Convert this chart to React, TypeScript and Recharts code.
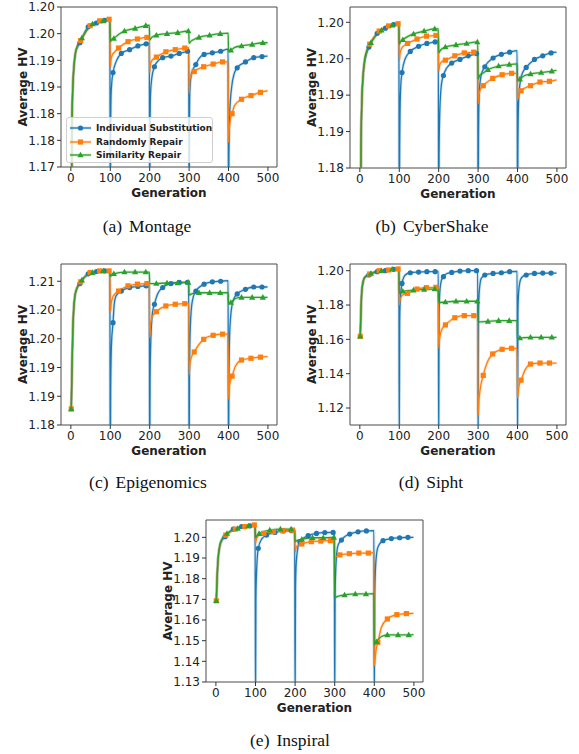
import React from 'react';
import { LineChart, Line, XAxis, YAxis, ReferenceArea } from 'recharts';

type Pt = [number, number];

const generationTicks = [0, 100, 200, 300, 400, 500];
const seriesNames = ['Individual Substitution', 'Randomly Repair', 'Similarity Repair'];
const seriesColors = ['#1f77b4', '#ff7f0e', '#2ca02c'];

// generations that carry a marker (matplotlib markevery)
const blueMarkerGens = [23, 44, 65, 86, 107, 128, 149, 170, 191, 212, 233, 254, 275, 296, 317, 338, 359, 380, 422, 443, 464, 485];
const orangeMarkerGens = [1, 25, 49, 73, 97, 121, 145, 169, 193, 217, 241, 265, 289, 313, 337, 361, 385, 409, 433, 457, 481];
const greenMarkerGens = [1, 28, 55, 82, 109, 136, 163, 190, 217, 244, 271, 298, 325, 352, 379, 406, 433, 460, 487];

// ---- Montage ----
const montageTicks = [1.17, 1.175, 1.18, 1.185, 1.19, 1.195, 1.2];
const montageLabels = ['1.17', '1.18', '1.18', '1.19', '1.19', '1.20', '1.20'];
const montageBlue: Pt[] = [
  [1, 1.15], [3, 1.179], [5, 1.185], [8, 1.189], [12, 1.1915], [17, 1.1925], [23, 1.1933], [44, 1.1963], [65, 1.197], [86, 1.1975], [99, 1.1977],
  [100, 1.16], [101, 1.178], [102, 1.1835], [104, 1.186], [107, 1.1877], [115, 1.1898], [128, 1.1913], [149, 1.192], [170, 1.1927], [191, 1.1931], [199, 1.1932],
  [200, 1.16], [201, 1.178], [202, 1.1835], [205, 1.1865], [212, 1.1888], [220, 1.1898], [233, 1.1905], [254, 1.1908], [275, 1.1913], [296, 1.1917], [299, 1.1918],
  [300, 1.16], [301, 1.179], [302, 1.1845], [306, 1.1875], [317, 1.1892], [325, 1.1903], [338, 1.1911], [359, 1.1914], [380, 1.1917], [399, 1.1921],
  [400, 1.16], [401, 1.172], [403, 1.18], [408, 1.185], [414, 1.1874], [422, 1.1886], [443, 1.1897], [464, 1.1905], [485, 1.1907], [499, 1.1908],
];
const montageOrange: Pt[] = [
  [1, 1.15], [3, 1.179], [5, 1.185], [8, 1.189], [12, 1.1915], [17, 1.1928], [25, 1.1937], [49, 1.1965], [73, 1.1974], [97, 1.1977], [99, 1.1977],
  [100, 1.1888], [102, 1.1902], [105, 1.191], [110, 1.1915], [121, 1.1923], [145, 1.1935], [169, 1.194], [193, 1.1943], [199, 1.1943],
  [200, 1.1877], [202, 1.1893], [205, 1.1899], [210, 1.1903], [217, 1.1906], [241, 1.1916], [265, 1.192], [289, 1.1923], [299, 1.1924],
  [300, 1.1838], [302, 1.1862], [305, 1.1872], [313, 1.1879], [337, 1.1888], [361, 1.1893], [385, 1.1897], [399, 1.1897],
  [400, 1.1746], [402, 1.1772], [405, 1.179], [409, 1.18], [415, 1.1815], [433, 1.1827], [457, 1.1834], [481, 1.184], [499, 1.1843],
];
const montageGreen: Pt[] = [
  [1, 1.15], [3, 1.179], [5, 1.185], [8, 1.189], [12, 1.1915], [17, 1.1928], [28, 1.1942], [55, 1.1968], [82, 1.1974], [99, 1.1976],
  [100, 1.1935], [103, 1.1939], [109, 1.1941], [120, 1.1948], [136, 1.1955], [163, 1.196], [190, 1.1965], [199, 1.1966],
  [200, 1.1938], [205, 1.1943], [217, 1.1947], [244, 1.195], [271, 1.1952], [298, 1.1955], [299, 1.1955],
  [300, 1.1932], [305, 1.1936], [312, 1.1939], [325, 1.1943], [352, 1.1947], [379, 1.195], [399, 1.1951],
  [400, 1.1918], [406, 1.1919], [415, 1.1924], [433, 1.1927], [460, 1.193], [487, 1.1933], [499, 1.1933],
];

// ---- CyberShake ----
const cyberTicks = [1.18, 1.1825, 1.185, 1.1875, 1.19, 1.1925, 1.195, 1.1975, 1.2];
const cyberLabels = ['1.18', '1.18', '1.19', '1.19', '1.19', '1.19', '1.20', '1.20', '1.20'];
const cyberBlue: Pt[] = [
  [1, 1.16], [3, 1.183], [5, 1.189], [8, 1.1925], [12, 1.1945], [17, 1.1957], [23, 1.1966], [44, 1.1985], [65, 1.1992], [86, 1.1997], [99, 1.1998],
  [100, 1.17], [101, 1.183], [102, 1.188], [104, 1.1915], [107, 1.1931], [115, 1.195], [128, 1.196], [149, 1.1967], [170, 1.1971], [191, 1.1973], [199, 1.1974],
  [200, 1.17], [201, 1.182], [203, 1.188], [207, 1.1915], [212, 1.1927], [220, 1.1937], [233, 1.1944], [254, 1.1949], [275, 1.1954], [296, 1.1957], [299, 1.1958],
  [300, 1.17], [301, 1.184], [303, 1.1905], [308, 1.1928], [317, 1.1939], [338, 1.1951], [359, 1.1956], [380, 1.1959], [399, 1.1961],
  [400, 1.17], [401, 1.183], [403, 1.1895], [408, 1.1922], [414, 1.1932], [422, 1.1938], [443, 1.1949], [464, 1.1954], [485, 1.1958], [499, 1.1959],
];
const cyberOrange: Pt[] = [
  [1, 1.16], [3, 1.183], [5, 1.189], [8, 1.1925], [12, 1.1948], [17, 1.196], [25, 1.197], [49, 1.1988], [73, 1.1995], [97, 1.1998], [99, 1.1998],
  [100, 1.1948], [102, 1.1957], [106, 1.1964], [112, 1.1968], [121, 1.1971], [145, 1.1977], [169, 1.1981], [193, 1.1982], [199, 1.1983],
  [200, 1.1933], [202, 1.194], [206, 1.1945], [217, 1.1948], [241, 1.1954], [265, 1.1958], [289, 1.1959], [299, 1.196],
  [300, 1.1888], [302, 1.19], [306, 1.1908], [313, 1.1913], [337, 1.1923], [361, 1.1928], [385, 1.193], [399, 1.193],
  [400, 1.1893], [403, 1.19], [409, 1.1906], [433, 1.1913], [457, 1.1918], [481, 1.1919], [499, 1.1921],
];
const cyberGreen: Pt[] = [
  [1, 1.16], [3, 1.183], [5, 1.189], [8, 1.1925], [12, 1.1948], [17, 1.196], [28, 1.1972], [55, 1.1989], [82, 1.1996], [99, 1.1997],
  [100, 1.197], [103, 1.1973], [109, 1.1976], [120, 1.198], [136, 1.1984], [163, 1.1988], [190, 1.1991], [199, 1.1991],
  [200, 1.1958], [205, 1.1962], [217, 1.1966], [244, 1.1969], [271, 1.1971], [298, 1.1973], [299, 1.1973],
  [300, 1.1922], [304, 1.1927], [312, 1.193], [325, 1.1935], [352, 1.194], [379, 1.1942], [399, 1.1943],
  [400, 1.1921], [406, 1.1922], [415, 1.1926], [433, 1.1929], [460, 1.1931], [487, 1.1933], [499, 1.1934],
];

// ---- Epigenomics ----
const epiTicks = [1.18, 1.185, 1.19, 1.195, 1.2, 1.205];
const epiLabels = ['1.18', '1.19', '1.19', '1.20', '1.20', '1.21'];
const epiBlue: Pt[] = [
  [1, 1.1828], [3, 1.1901], [5, 1.1965], [10, 1.2023], [15, 1.2037], [23, 1.2046], [44, 1.2063], [65, 1.2067], [86, 1.2068], [99, 1.2068],
  [100, 1.17], [101, 1.186], [103, 1.194], [107, 1.1978], [110, 1.201], [115, 1.2025], [128, 1.2033], [149, 1.2039], [170, 1.2041], [191, 1.2042], [199, 1.2042],
  [200, 1.17], [201, 1.188], [203, 1.195], [207, 1.1995], [212, 1.201], [220, 1.2028], [233, 1.2039], [254, 1.2046], [275, 1.2048], [296, 1.2048], [299, 1.2048],
  [300, 1.17], [301, 1.19], [303, 1.197], [308, 1.2015], [317, 1.2033], [338, 1.2045], [359, 1.2049], [380, 1.205], [399, 1.2051],
  [400, 1.17], [401, 1.188], [403, 1.196], [408, 1.2005], [414, 1.202], [422, 1.2028], [443, 1.2036], [464, 1.204], [485, 1.204], [499, 1.204],
];
const epiOrange: Pt[] = [
  [1, 1.1828], [3, 1.1901], [5, 1.1965], [10, 1.2023], [15, 1.2037], [25, 1.2049], [49, 1.2065], [73, 1.2068], [97, 1.2068], [99, 1.2068],
  [100, 1.1997], [102, 1.201], [106, 1.2022], [112, 1.2028], [121, 1.2033], [145, 1.2042], [169, 1.2045], [193, 1.2046], [199, 1.2046],
  [200, 1.1952], [202, 1.1972], [206, 1.1988], [217, 1.1997], [241, 1.2007], [265, 1.201], [289, 1.2011], [299, 1.2011],
  [300, 1.1887], [302, 1.1905], [306, 1.1918], [313, 1.1927], [325, 1.194], [337, 1.1949], [361, 1.1956], [385, 1.1958], [399, 1.1958],
  [400, 1.1845], [402, 1.1865], [405, 1.1877], [409, 1.1885], [418, 1.1903], [433, 1.1913], [457, 1.1916], [481, 1.1918], [499, 1.1919],
];
const epiGreen: Pt[] = [
  [1, 1.1828], [3, 1.1901], [5, 1.1965], [10, 1.2023], [15, 1.2037], [28, 1.2052], [55, 1.2065], [82, 1.2068], [99, 1.2067],
  [100, 1.2058], [103, 1.2061], [109, 1.2063], [136, 1.2066], [163, 1.2066], [190, 1.2066], [199, 1.2066],
  [200, 1.2046], [217, 1.2046], [244, 1.2047], [271, 1.2047], [298, 1.2048], [299, 1.2048],
  [300, 1.2026], [310, 1.2029], [325, 1.203], [352, 1.203], [379, 1.203], [399, 1.203],
  [400, 1.2012], [406, 1.2013], [418, 1.202], [433, 1.2022], [460, 1.2022], [487, 1.2022], [499, 1.2022],
];

// ---- Sipht ----
const siphtTicks = [1.12, 1.14, 1.16, 1.18, 1.2];
const siphtLabels = ['1.12', '1.14', '1.16', '1.18', '1.20'];
const siphtBlue: Pt[] = [
  [1, 1.1618], [3, 1.178], [5, 1.188], [10, 1.195], [15, 1.1965], [23, 1.1975], [44, 1.1994], [65, 1.2], [86, 1.2008], [99, 1.2008],
  [100, 1.1], [101, 1.17], [103, 1.185], [107, 1.1926], [112, 1.1965], [118, 1.198], [128, 1.1988], [149, 1.1992], [170, 1.1994], [191, 1.1994], [199, 1.1996],
  [200, 1.1], [201, 1.175], [203, 1.188], [207, 1.1945], [212, 1.1965], [220, 1.1982], [233, 1.199], [254, 1.1998], [275, 1.2], [296, 1.2], [299, 1.2],
  [300, 1.1], [301, 1.175], [303, 1.188], [308, 1.1955], [317, 1.1975], [338, 1.1984], [359, 1.1988], [380, 1.1994], [399, 1.1996],
  [400, 1.1], [401, 1.175], [403, 1.188], [408, 1.195], [414, 1.1968], [422, 1.1975], [443, 1.1984], [464, 1.1986], [485, 1.1986], [499, 1.1986],
];
const siphtOrange: Pt[] = [
  [1, 1.1618], [3, 1.178], [5, 1.188], [10, 1.195], [15, 1.1968], [25, 1.1981], [49, 1.2], [73, 1.2004], [97, 1.201], [99, 1.201],
  [100, 1.18], [102, 1.183], [106, 1.1852], [112, 1.1862], [121, 1.1868], [145, 1.1893], [169, 1.1901], [193, 1.1903], [199, 1.1903],
  [200, 1.1548], [202, 1.16], [206, 1.1645], [211, 1.167], [217, 1.1684], [241, 1.1726], [265, 1.1738], [289, 1.1738], [299, 1.1738],
  [300, 1.1154], [302, 1.124], [306, 1.132], [313, 1.139], [325, 1.1475], [337, 1.1515], [361, 1.1542], [385, 1.1548], [399, 1.1548],
  [400, 1.1257], [402, 1.13], [405, 1.134], [409, 1.1362], [420, 1.1425], [433, 1.1456], [457, 1.1462], [481, 1.1462], [499, 1.1461],
];
const siphtGreen: Pt[] = [
  [1, 1.1618], [3, 1.178], [5, 1.188], [10, 1.195], [15, 1.1968], [28, 1.1984], [55, 1.2], [82, 1.2008], [99, 1.2008],
  [100, 1.1868], [103, 1.1874], [109, 1.188], [136, 1.1887], [163, 1.1891], [190, 1.1893], [199, 1.1893],
  [200, 1.1814], [217, 1.1818], [244, 1.1822], [271, 1.1822], [298, 1.1822], [299, 1.1822],
  [300, 1.1701], [325, 1.1705], [352, 1.1709], [379, 1.1709], [399, 1.1709],
  [400, 1.1606], [406, 1.1608], [433, 1.1612], [460, 1.1612], [487, 1.1612], [499, 1.1611],
];

// ---- Inspiral ----
const inspiralTicks = [1.13, 1.14, 1.15, 1.16, 1.17, 1.18, 1.19, 1.2];
const inspiralLabels = ['1.13', '1.14', '1.15', '1.16', '1.17', '1.18', '1.19', '1.20'];
const inspiralBlue: Pt[] = [
  [1, 1.1693], [3, 1.18], [5, 1.188], [10, 1.196], [15, 1.1985], [23, 1.2003], [44, 1.204], [65, 1.2052], [86, 1.2056], [99, 1.2057],
  [100, 1.12], [101, 1.17], [103, 1.185], [107, 1.1947], [115, 1.199], [128, 1.2011], [149, 1.2024], [170, 1.2031], [191, 1.2032], [199, 1.2032],
  [200, 1.12], [201, 1.175], [203, 1.188], [207, 1.195], [212, 1.1979], [220, 1.1995], [233, 1.2008], [254, 1.2019], [275, 1.2023], [296, 1.2024], [299, 1.2024],
  [300, 1.12], [301, 1.172], [303, 1.186], [308, 1.196], [317, 1.1987], [325, 1.2003], [338, 1.2016], [359, 1.2027], [380, 1.2031], [399, 1.2032],
  [400, 1.12], [401, 1.17], [403, 1.185], [408, 1.1945], [414, 1.197], [422, 1.1984], [443, 1.1994], [464, 1.1998], [485, 1.2], [499, 1.2],
];
const inspiralOrange: Pt[] = [
  [1, 1.1693], [3, 1.18], [5, 1.188], [10, 1.196], [15, 1.199], [25, 1.2011], [49, 1.204], [73, 1.2052], [97, 1.206], [99, 1.206],
  [100, 1.1971], [102, 1.199], [106, 1.2005], [112, 1.2013], [121, 1.2019], [145, 1.2027], [169, 1.2032], [193, 1.2035], [199, 1.2035],
  [200, 1.1931], [202, 1.1948], [206, 1.196], [217, 1.1968], [241, 1.1979], [265, 1.1982], [289, 1.1984], [299, 1.1984],
  [300, 1.1895], [303, 1.1905], [307, 1.1912], [313, 1.1915], [337, 1.1921], [361, 1.1924], [385, 1.1924], [399, 1.1926],
  [400, 1.1379], [402, 1.141], [405, 1.146], [409, 1.1492], [418, 1.1565], [433, 1.1605], [457, 1.1626], [481, 1.1631], [499, 1.1632],
];
const inspiralGreen: Pt[] = [
  [1, 1.1693], [3, 1.18], [5, 1.188], [10, 1.196], [15, 1.199], [28, 1.2019], [55, 1.2043], [82, 1.2055], [99, 1.2056],
  [100, 1.1998], [103, 1.2006], [109, 1.2018], [120, 1.2028], [136, 1.2035], [163, 1.204], [190, 1.204], [199, 1.204],
  [200, 1.1979], [205, 1.1985], [217, 1.199], [244, 1.1998], [271, 1.1998], [298, 1.2], [299, 1.2],
  [300, 1.1709], [310, 1.1716], [325, 1.1721], [352, 1.1726], [379, 1.1726], [399, 1.1727],
  [400, 1.148], [406, 1.1495], [418, 1.152], [433, 1.1528], [460, 1.1528], [487, 1.1528], [499, 1.1529],
];

const X_DOMAIN: [number, number] = [-25, 523];
const TICK_FONT = { fontSize: 12, fill: '#222', fontFamily: 'DejaVu Sans' };
const markerGens = [blueMarkerGens, orangeMarkerGens, greenMarkerGens];
const shapes = ['circle', 'square', 'triangle'];

function Marker({ shape, cx, cy, color }: { shape: string; cx: number; cy: number; color: string }) {
  if (shape === 'circle') return <circle cx={cx} cy={cy} r={2.6} fill={color} />;
  if (shape === 'square') return <rect x={cx - 2.6} y={cy - 2.6} width={5.2} height={5.2} fill={color} />;
  return <polygon points={`${cx},${cy - 3.3} ${cx - 3.1},${cy + 2.3} ${cx + 3.1},${cy + 2.3}`} fill={color} />;
}

function makeDot(idx: number) {
  const gens = markerGens[idx];
  return (props: any) => {
    const { cx, cy, payload, index } = props;
    if (cx == null || cy == null || !gens.includes(payload.g)) return <g key={`n-${idx}-${index}`} />;
    return (
      <g key={`m-${idx}-${index}`}>
        <Marker shape={shapes[idx]} cx={cx} cy={cy} color={seriesColors[idx]} />
      </g>
    );
  };
}

const toRows = (pts: Pt[]) => pts.map(([g, v]) => ({ g, v }));

type PanelProps = {
  series: Pt[][];
  yDomain: [number, number];
  yTicks: number[];
  yLabels: string[];
  plotLeft: number;
  plotTop: number;
  plotW: number;
  plotH: number;
};

function Panel({ series, yDomain, yTicks, yLabels, plotLeft, plotTop, plotW, plotH }: PanelProps) {
  const yAxisW = 60;
  const width = plotW + yAxisW + 10;
  const height = plotH + 10 + 45;
  return (
    <div style={{ position: 'absolute', left: plotLeft - yAxisW, top: plotTop - 10 }}>
      <LineChart width={width} height={height} margin={{ top: 10, right: 10, left: 0, bottom: 0 }}>
        <XAxis
          dataKey="g"
          type="number"
          domain={X_DOMAIN}
          ticks={generationTicks}
          allowDataOverflow
          height={45}
          tick={TICK_FONT}
          tickSize={4}
          tickLine={{ stroke: '#333' }}
          axisLine={false}
          label={{
            content: (p: any) => (
              <text
                x={p.viewBox.x + p.viewBox.width / 2}
                y={p.viewBox.y + 29.5}
                textAnchor="middle"
                fontFamily="DejaVu Sans"
                fontWeight="bold"
                fontSize={12}
                fill="#222"
              >
                Generation
              </text>
            ),
          }}
        />
        <YAxis
          type="number"
          domain={yDomain}
          ticks={yTicks}
          allowDataOverflow
          width={yAxisW}
          tick={TICK_FONT}
          tickSize={4}
          tickLine={{ stroke: '#333' }}
          axisLine={false}
          tickFormatter={(v: number) => yLabels[yTicks.indexOf(v)] ?? String(v)}
          label={{
            content: (p: any) => {
              const cy = p.viewBox.y + p.viewBox.height / 2;
              const x = 25.5;
              return (
                <text
                  x={x}
                  y={cy}
                  transform={`rotate(-90 ${x} ${cy})`}
                  textAnchor="middle"
                  fontFamily="DejaVu Sans"
                  fontWeight="bold"
                  fontSize={12}
                  fill="#222"
                >
                  Average HV
                </text>
              );
            },
          }}
        />
        {series.map((pts, i) => (
          <Line
            key={`band-${i}`}
            data={toRows(pts)}
            dataKey="v"
            type="monotone"
            stroke={seriesColors[i]}
            strokeOpacity={0.2}
            strokeWidth={3}
            dot={false}
            activeDot={false}
            isAnimationActive={false}
          />
        ))}
        {series.map((pts, i) => (
          <Line
            key={`line-${i}`}
            data={toRows(pts)}
            dataKey="v"
            type="monotone"
            stroke={seriesColors[i]}
            strokeWidth={1.3}
            dot={makeDot(i)}
            activeDot={false}
            isAnimationActive={false}
          />
        ))}
        <ReferenceArea
          x1={X_DOMAIN[0]}
          x2={X_DOMAIN[1]}
          y1={yDomain[0]}
          y2={yDomain[1]}
          fill="none"
          stroke="#4a4a4a"
          strokeWidth={1}
          ifOverflow="visible"
        />
      </LineChart>
    </div>
  );
}

function Caption({ tag, name, cx, cy }: { tag: string; name: string; cx: number; cy: number }) {
  return (
    <div
      style={{
        position: 'absolute',
        left: cx - 120,
        top: cy - 11,
        width: 240,
        textAlign: 'center',
        fontFamily: '"Liberation Serif", serif',
        fontSize: 17.5,
        lineHeight: '22px',
        color: '#111',
        whiteSpace: 'pre',
      }}
    >
      {tag}
      <span style={{ marginLeft: 7 }}>{name}</span>
    </div>
  );
}

function LegendBox() {
  return (
    <div
      style={{
        position: 'absolute',
        left: 66,
        top: 117,
        width: 147,
        height: 46,
        background: 'rgba(255,255,255,0.8)',
        border: '1px solid #d0d0d0',
        borderRadius: 3,
        boxSizing: 'border-box',
      }}
    >
      {seriesNames.map((name, i) => (
        <div
          key={name}
          style={{ position: 'absolute', left: 2, top: 4 + i * 13.5, height: 12, display: 'flex', alignItems: 'center', whiteSpace: 'nowrap' }}
        >
          <svg width={23} height={12}>
            <line x1={1} y1={6} x2={22} y2={6} stroke={seriesColors[i]} strokeWidth={3} strokeOpacity={0.2} />
            <line x1={1} y1={6} x2={22} y2={6} stroke={seriesColors[i]} strokeWidth={1.3} />
            <Marker shape={shapes[i]} cx={11.5} cy={6} color={seriesColors[i]} />
          </svg>
          <span style={{ marginLeft: 4, fontFamily: 'DejaVu Sans', fontWeight: 'bold', fontSize: 9, color: '#222', lineHeight: '12px' }}>
            {name}
          </span>
        </div>
      ))}
    </div>
  );
}

export default function App() {
  return (
    <div style={{ position: 'absolute', left: 0, top: 0, width: 579, height: 754, background: '#fff' }}>
      <Panel series={[montageBlue, montageOrange, montageGreen]} yDomain={[1.17, 1.2]} yTicks={montageTicks} yLabels={montageLabels} plotLeft={61} plotTop={7} plotW={216} plotH={160} />
      <Panel series={[cyberBlue, cyberOrange, cyberGreen]} yDomain={[1.18, 1.2021]} yTicks={cyberTicks} yLabels={cyberLabels} plotLeft={350} plotTop={7} plotW={216} plotH={161} />
      <Panel series={[epiBlue, epiOrange, epiGreen]} yDomain={[1.18, 1.208]} yTicks={epiTicks} yLabels={epiLabels} plotLeft={61} plotTop={264} plotW={216} plotH={161} />
      <Panel series={[siphtBlue, siphtOrange, siphtGreen]} yDomain={[1.1101, 1.2039]} yTicks={siphtTicks} yLabels={siphtLabels} plotLeft={350} plotTop={264} plotW={216} plotH={161} />
      <Panel series={[inspiralBlue, inspiralOrange, inspiralGreen]} yDomain={[1.13, 1.2084]} yTicks={inspiralTicks} yLabels={inspiralLabels} plotLeft={206} plotTop={520} plotW={217} plotH={162} />
      <LegendBox />
      <Caption tag="(a)" name="Montage" cx={147} cy={226} />
      <Caption tag="(b)" name="CyberShake" cx={432} cy={226} />
      <Caption tag="(c)" name="Epigenomics" cx={148} cy={482} />
      <Caption tag="(d)" name="Sipht" cx={431} cy={482} />
      <Caption tag="(e)" name="Inspiral" cx={290} cy={740} />
    </div>
  );
}
